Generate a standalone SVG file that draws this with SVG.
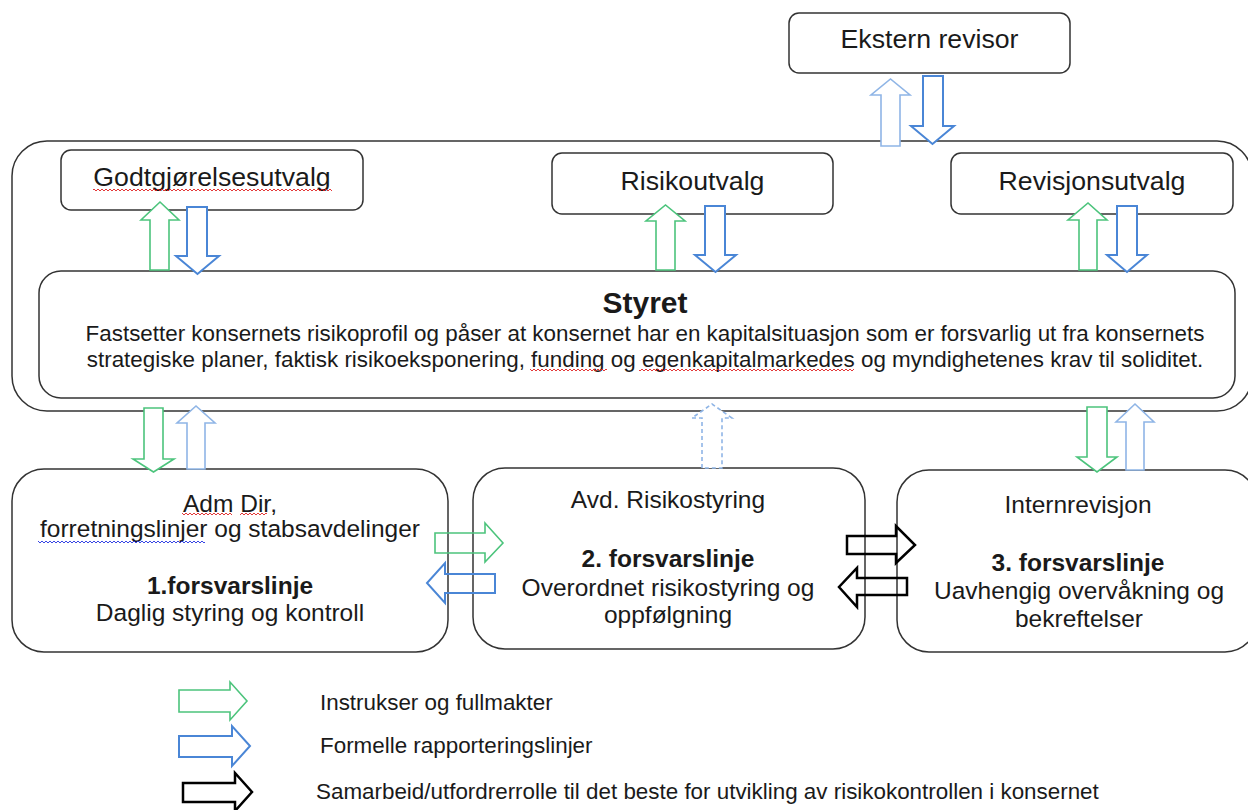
<svg xmlns="http://www.w3.org/2000/svg" width="1248" height="810" viewBox="0 0 1248 810">
<defs>
<style>
.box{fill:#fff;stroke:#333;stroke-width:1.5}
.t{font-family:"Liberation Sans",Arial,sans-serif;fill:#1a1a1a;text-anchor:middle}
.c{font-size:26.7px}
.m{font-size:24.5px}
.s{font-size:22.4px}
.bold{font-weight:bold}
.lg{font-family:"Liberation Sans",Arial,sans-serif;fill:#1a1a1a;font-size:22.4px}
.g{fill:#fff;stroke:#4cc47c;stroke-width:1.6}
.b{fill:#fff;stroke:#4a86d6;stroke-width:2}
.lb{fill:#fff;stroke:#8fb5e6;stroke-width:1.6}
.k{fill:#fff;stroke:#000;stroke-width:2.5}
.nf{fill:none}
.dash{stroke-dasharray:4 3}
</style>
<pattern id="wr" width="4" height="4" patternUnits="userSpaceOnUse"><path d="M0 3 L2 1 L4 3" fill="none" stroke="#e02020" stroke-width="0.9"/></pattern>
<pattern id="wb" width="4" height="4" patternUnits="userSpaceOnUse"><path d="M0 3 L2 1 L4 3" fill="none" stroke="#2030e0" stroke-width="0.9"/></pattern>
</defs>
<rect width="1248" height="810" fill="#fff"/>

<g id="container"><rect class="box" x="12" y="141" width="1240" height="270" rx="35"/></g>

<g id="ekstern-revisor"><rect class="box" x="789" y="13" width="281" height="60" rx="10"/><text class="t c" x="929.5" y="48">Ekstern revisor</text></g>

<g id="godtgjorelsesutvalg"><rect class="box" x="61" y="150" width="302" height="60" rx="10"/><text class="t c" x="212" y="186">Godtgjørelsesutvalg</text><rect x="93" y="187" width="239" height="4" fill="url(#wr)"/></g>

<g id="risikoutvalg"><rect class="box" x="552" y="153" width="281" height="61" rx="10"/><text class="t c" x="692.5" y="190">Risikoutvalg</text></g>

<g id="revisjonsutvalg"><rect class="box" x="951" y="153" width="282" height="61" rx="10"/><text class="t c" x="1092" y="190">Revisjonsutvalg</text></g>

<g id="styret"><rect class="box" x="39" y="271" width="1196" height="127" rx="22"/>
<text class="t bold" x="645" y="313" font-size="30">Styret</text>
<text class="t s" x="645" y="341">Fastsetter konsernets risikoprofil og påser at konsernet har en kapitalsituasjon som er forsvarlig ut fra konsernets</text>
<text class="t s" x="645" y="367">strategiske planer, faktisk risikoeksponering, funding og egenkapitalmarkedes og myndighetenes krav til soliditet.</text>
<rect x="530" y="369" width="77" height="4" fill="url(#wr)"/><rect x="639" y="369" width="215" height="4" fill="url(#wr)"/>
</g>

<g id="adm-dir"><rect class="box" x="12" y="469" width="436" height="183" rx="32"/>
<text class="t m" x="230" y="512">Adm Dir,</text>
<text class="t m" x="230" y="537">forretningslinjer og stabsavdelinger</text>
<text class="t m bold" x="230" y="594">1.forsvarslinje</text>
<text class="t m" x="230" y="621">Daglig styring og kontroll</text>
<rect x="182" y="513" width="50" height="4" fill="url(#wr)"/><rect x="240" y="513" width="27" height="4" fill="url(#wr)"/>
<rect x="38" y="539" width="167" height="4" fill="url(#wb)"/>
</g>

<g id="avd-risikostyring"><rect class="box" x="473" y="468" width="392" height="181" rx="32"/>
<text class="t m" x="668" y="508">Avd. Risikostyring</text>
<text class="t m bold" x="668" y="567">2. forsvarslinje</text>
<text class="t m" x="668" y="596">Overordnet risikostyring og</text>
<text class="t m" x="668" y="623">oppfølgning</text>
</g>

<g id="internrevisjon"><rect class="box" x="897" y="470" width="360" height="182" rx="32"/>
<text class="t m" x="1078" y="513">Internrevisjon</text>
<text class="t m bold" x="1078" y="571">3. forsvarslinje</text>
<text class="t m" x="1079" y="599">Uavhengig overvåkning og</text>
<text class="t m" x="1079" y="627">bekreftelser</text>
</g>

<g id="connectors">
<polygon class="lb" points="881,146 881,95 871,95 890.5,79 910,95 900,95 900,146"/>
<polygon class="b" points="923,76 943,76 943,126 954,126 932.5,144 911,126 923,126"/>
<polygon class="g" points="150,270 150,220 141,220 160,202 179,220 169,220 169,270"/>
<polygon class="b" points="187,207 207,207 207,256 219,256 197.5,274 176,256 187,256"/>
<polygon class="g" points="656,270 656,221 646,221 665.5,205 685,221 675,221 675,270"/>
<polygon class="b" points="705,206 725,206 725,255 736,255 715.5,272 695,255 705,255"/>
<polygon class="g" points="1079,270 1079,220 1068,220 1088,203 1107,220 1097,220 1097,270"/>
<polygon class="b" points="1117,206 1137,206 1137,255 1147,255 1127,272 1107,255 1117,255"/>
<polygon class="g" points="144,408 163,408 163,459 174,459 153.5,472 133,459 144,459"/>
<polygon class="lb" points="187,469 187,423 177,423 196,406 215,423 205,423 205,469"/>
<polygon class="lb dash" points="702,468 702,418 692,418 712,404 732,418 722,418 722,468"/>
<polygon class="g" points="1087,407 1107,407 1107,457 1117,457 1097,472 1077,457 1087,457"/>
<polygon class="lb" points="1126,470 1126,422 1116,422 1135,404 1154,422 1144,422 1144,470"/>
<polygon class="g nf" points="435,533 485,533 485,523 503,543 485,562 485,553 435,553"/>
<polygon class="b nf" points="495,574 445,574 445,563 427,583 445,603 445,593 495,593"/>
<polygon class="k nf" points="847,536 896,536 896,526 915,545 896,563 896,554 847,554"/>
<polygon class="k nf" points="907,578 857,578 857,568 839,587 857,607 857,595 907,595"/>
</g>

<g id="legend">
<polygon class="g" points="179,690 230,690 230,682 247,701 230,720 230,712 179,712"/>
<polygon class="b" points="179,736 232,736 232,726 250,746 232,766 232,757 179,757"/>
<polygon class="k" points="183,783 235,783 235,773 252,792 235,811 235,802 183,802"/>
<text class="lg" x="320" y="710">Instrukser og fullmakter</text>
<text class="lg" x="320" y="753">Formelle rapporteringslinjer</text>
<text class="lg" x="316" y="799">Samarbeid/utfordrerrolle til det beste for utvikling av risikokontrollen i konsernet</text>
</g>
</svg>
